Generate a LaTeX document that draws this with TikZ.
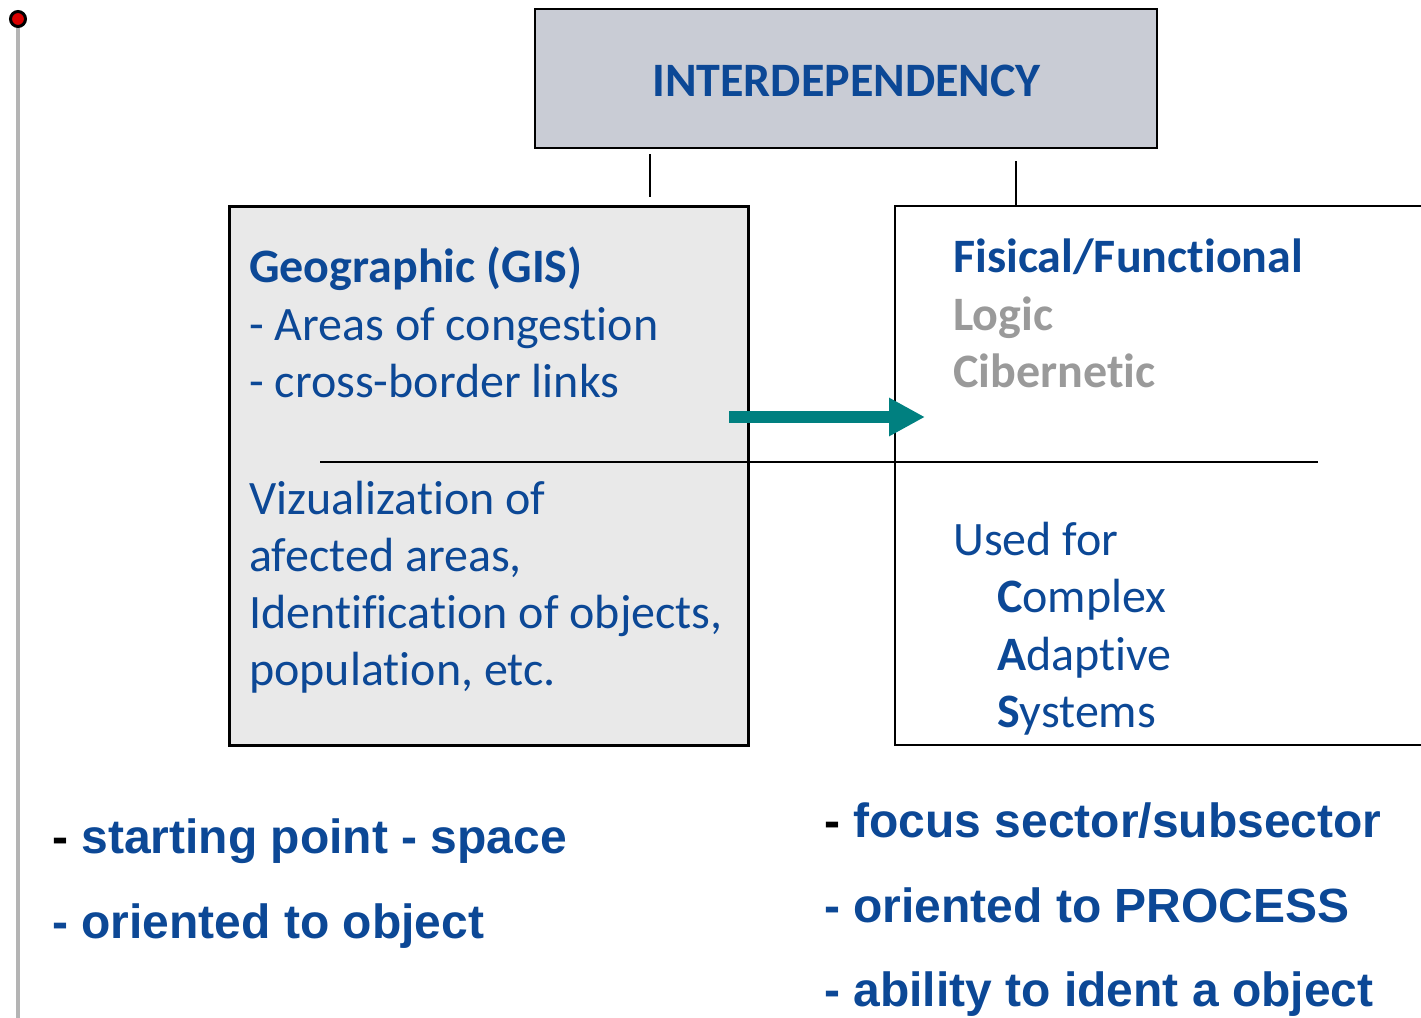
\documentclass[tikz,border=0pt]{standalone}
\usepackage{fontspec}
\setmainfont{Carlito}[Ligatures=CommonOff]
\newfontfamily\arialfont{Liberation Sans}
\usetikzlibrary{arrows.meta}
\definecolor{tblue}{RGB}{12,72,150}
\definecolor{tgray}{RGB}{154,154,154}
\definecolor{topfill}{RGB}{201,204,213}
\definecolor{boxfill}{RGB}{233,233,233}
\definecolor{arrowteal}{RGB}{0,128,128}
\definecolor{railgray}{RGB}{180,180,180}
\begin{document}
\begin{tikzpicture}[x=1pt,y=-1pt,
  txt/.style={inner sep=0pt, anchor=base west, text=tblue, font=\fontsize{48}{57}\selectfont},
  txtb/.style={txt, font=\fontsize{48}{57}\selectfont\bfseries},
  big/.style={inner sep=0pt, anchor=base west, text=tblue, font=\arialfont\bfseries\fontsize{48}{57}\selectfont},
  conn/.style={draw=black, line width=2pt}]
\useasboundingbox (0,0) rectangle (1421,1017);
% rail and dot
\coordinate (railtop) at (17.5,19);
\coordinate (railbot) at (17.5,1030);
\draw[railgray, line width=4pt] (railtop) -- (railbot);
\node[circle, fill=red!85!black, draw=black, line width=3pt, minimum size=15pt, inner sep=0pt] (dot) at (18,19) {};
% boxes
\node[draw=black, line width=2.5pt, fill=topfill, minimum width=622pt, minimum height=139pt, inner sep=0pt] (top) at (846,78.5) {};
\node[draw=black, line width=3pt, fill=boxfill, minimum width=519pt, minimum height=539pt, inner sep=0pt] (lbox) at (488.5,475.5) {};
\node[draw=black, line width=2pt, minimum width=545pt, minimum height=539pt, inner sep=0pt] (rbox) at (1167.5,475.5) {};
% title
\node[txtb, anchor=base] (title) at (846.5,96) {INTERDEPENDENCY};
% connectors
\draw[conn] ([shift={(-196,5)}]top.south) -- ([shift={(161.5,-8)}]lbox.north);
\draw[conn] ([shift={(170,12)}]top.south) -- ([shift={(-151.5,0)}]rbox.north);
\coordinate (hl) at (320,462);
\coordinate (hr) at (1318,462);
\draw[conn] (hl) -- (hr);
\coordinate (as) at (729,417);
\coordinate (ae) at (925,417);
\draw[arrowteal, line width=11.5pt, -{Triangle[length=36pt,width=36pt]}] (as) -- (ae);
% left box text
\node[txtb] (g1) at (249,282) {Geographic (GIS)};
\node[txt] (g2) at (249,340) {- Areas of congestion};
\node[txt] (g3) at (249,397) {- cross-border links};
\node[txt] (v1) at (249,514) {Vizualization of};
\node[txt] (v2) at (249,571) {afected areas,};
\node[txt] (v3) at (249,628) {Identification of objects,};
\node[txt] (v4) at (249,685) {population, etc.};
% right box text
\node[txtb] (f1) at (953,272) {Fisical/Functional};
\node[txtb, text=tgray] (f2) at (953,330) {Logic};
\node[txtb, text=tgray] (f3) at (953,387) {Cibernetic};
\node[txt] (u1) at (953,555) {Used for};
\node[txt] (u2) at (997,612) {{\bfseries C}omplex};
\node[txt] (u3) at (997,670) {{\bfseries A}daptive};
\node[txt] (u4) at (997,727) {{\bfseries S}ystems};
% bottom text
\node[big] (b1) at (52,853) {{\color{black}-} starting point - space};
\node[big] (b2) at (52,938) {- oriented to object};
\node[big] (c1) at (824,837) {{\color{black}-} focus sector/subsector};
\node[big] (c2) at (824,922) {- oriented to PROCESS};
\node[big] (c3) at (824,1006) {- ability to ident a object};
\end{tikzpicture}
\end{document}
